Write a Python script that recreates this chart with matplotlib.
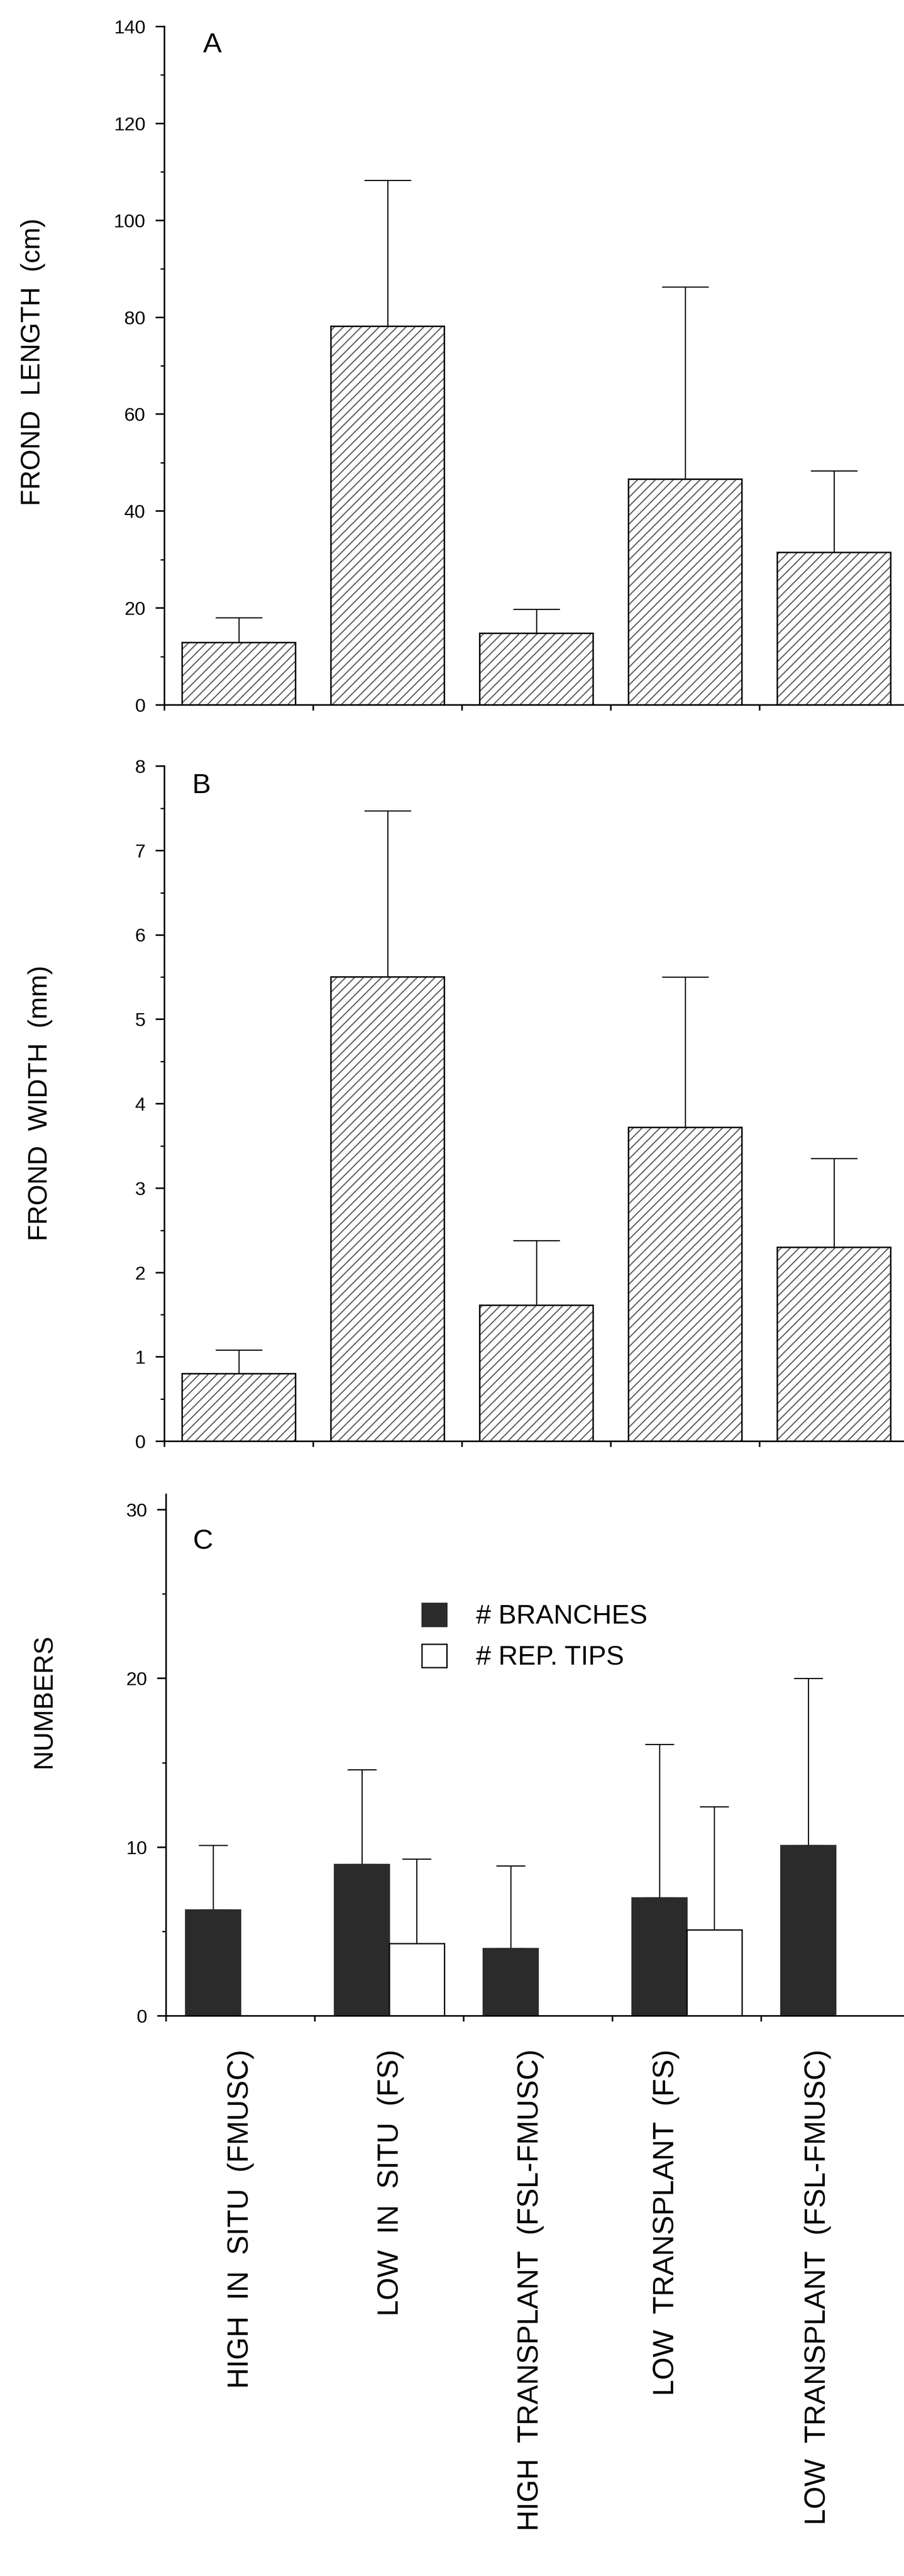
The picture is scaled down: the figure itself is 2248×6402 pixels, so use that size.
import numpy as np
import matplotlib
matplotlib.use("Agg")
import matplotlib.pyplot as plt
from matplotlib.patches import Patch
from matplotlib.ticker import MultipleLocator
import matplotlib.transforms as mtransforms

# ---------------- data ----------------
categories = ["HIGH  IN  SITU  (FMUSC)", "LOW  IN  SITU  (FS)",
              "HIGH  TRANSPLANT  (FSL-FMUSC)", "LOW  TRANSPLANT  (FS)",
              "LOW  TRANSPLANT  (FSL-FMUSC)"]
length_mean = [12.9, 78.1, 14.8, 46.6, 31.5]
length_upper = [18.0, 108.3, 19.8, 86.3, 48.3]
width_mean = [0.80, 5.50, 1.61, 3.72, 2.30]
width_upper = [1.08, 7.47, 2.38, 5.50, 3.35]
branches_mean = [6.3, 9.0, 4.0, 7.0, 10.1]
branches_upper = [10.1, 14.6, 8.9, 16.1, 20.0]
tips_mean = [np.nan, 4.3, np.nan, 5.1, np.nan]
tips_upper = [np.nan, 9.3, np.nan, 12.4, np.nan]
legend_labels = ["# BRANCHES", "# REP. TIPS"]
panel_letters = ["A", "B", "C"]
ylabels = ["FROND  LENGTH  (cm)", "FROND  WIDTH  (mm)", "NUMBERS"]

# ---------------- style ----------------
plt.rcParams["font.family"] = ["Liberation Sans", "DejaVu Sans"]
plt.rcParams["hatch.linewidth"] = 1.0

W, H, DPI = 2248, 6402, 200
fig = plt.figure(figsize=(W / DPI, H / DPI), dpi=DPI)
fig.patch.set_facecolor("white")


def fx(px):
    return px / W


def fy(py):
    return 1 - py / H


def make_axes(left, top, bottom):
    return fig.add_axes([fx(left), fy(bottom), fx(W - left), (bottom - top) / H])


CAT_W = 370.0
DARK = "#2b2b2b"


def style(ax, left_px, ymax, major, minor):
    ax.set_xlim(0, (W - left_px) / CAT_W)
    ax.set_ylim(0, ymax)
    for s in ("top", "right"):
        ax.spines[s].set_visible(False)
    for s in ("left", "bottom"):
        ax.spines[s].set_linewidth(1.4)
    ax.set_xticks(np.arange(len(categories)))
    ax.set_xticklabels([])
    ax.yaxis.set_major_locator(MultipleLocator(major))
    ax.yaxis.set_minor_locator(MultipleLocator(minor))
    ax.tick_params(axis="y", which="major", direction="out", length=8, width=1.4,
                   labelsize=17, pad=9)
    ax.tick_params(axis="y", which="minor", direction="out", length=3.5, width=1.2)
    ax.tick_params(axis="x", which="major", direction="out", length=5, width=1.4)
    ax.patch.set_alpha(0)


def hatched_bars(ax, x, h, w):
    ax.bar(x, h, w, color="white", edgecolor="#5a5a5a", hatch="///",
           linewidth=0, zorder=2)
    ax.bar(x, h, w, fill=False, edgecolor="black", linewidth=1.3, zorder=3)


def upper_err(ax, x, mean, upper, capsize):
    mean = np.asarray(mean, float)
    upper = np.asarray(upper, float)
    ax.errorbar(x, mean, yerr=[np.zeros_like(mean), upper - mean], fmt="none",
                ecolor="black", elinewidth=1.0, capsize=capsize, capthick=1.0,
                zorder=1)


xc = np.arange(len(categories)) + 0.5

# ---------------- panel A ----------------
axA = make_axes(409, 66, 1752)
style(axA, 409, 140, 20, 10)
hatched_bars(axA, xc, length_mean, 0.76)
upper_err(axA, xc, length_mean, length_upper, 21)

# ---------------- panel B ----------------
axB = make_axes(409, 1904, 3582)
style(axB, 409, 8, 1, 0.5)
hatched_bars(axB, xc, width_mean, 0.76)
upper_err(axB, xc, width_mean, width_upper, 21)

# ---------------- panel C ----------------
axC = make_axes(413, 3714, 5010)
style(axC, 413, 30.9, 10, 5)
bw = 0.37
xd = xc - bw / 2
xw = xc + bw / 2
bm = np.asarray(branches_mean, float)
tm = np.asarray(tips_mean, float)
tu = np.asarray(tips_upper, float)
ok = ~np.isnan(tm)
axC.bar(xd, bm, bw, color=DARK, edgecolor=DARK, linewidth=1.0, zorder=2)
axC.bar(xw[ok], tm[ok], bw, color="white", edgecolor="black", linewidth=1.2, zorder=2)
upper_err(axC, xd, bm, branches_upper, 13)
upper_err(axC, xw[ok], tm[ok], tu[ok], 13)

handles = [Patch(facecolor=DARK, edgecolor=DARK, linewidth=1.0),
           Patch(facecolor="white", edgecolor="black", linewidth=1.2)]
axC.legend(handles, legend_labels, loc="center left",
           bbox_to_anchor=(fx(1049), fy(4068)), bbox_transform=fig.transFigure,
           frameon=False, fontsize=24, handlelength=0.93, handleheight=0.95,
           handletextpad=1.1, labelspacing=0.54, borderpad=0, borderaxespad=0)

# category labels under panel C
label_offsets = [0.0, 0.01, -0.05, -0.14, -0.12]
trans = mtransforms.blended_transform_factory(axC.transData, axC.transAxes)
for i, lab in enumerate(categories):
    axC.text(xc[i] + label_offsets[i], (5010 - 5093) / (5010 - 3714), lab,
             transform=trans, rotation=90, ha="center", va="top", fontsize=26,
             clip_on=False)

# panel letters
for letter, (px, py) in zip(panel_letters, [(528, 112), (500, 1953), (505, 3832)]):
    fig.text(fx(px), fy(py), letter, ha="center", va="center", fontsize=25)

# y-axis labels
for lab, (px, py) in zip(ylabels, [(82, 900), (100, 2742), (110, 4227)]):
    fig.text(fx(px), fy(py), lab, rotation=90, ha="center", va="center", fontsize=24)

fig.savefig("out.png", dpi=DPI, facecolor="white")
